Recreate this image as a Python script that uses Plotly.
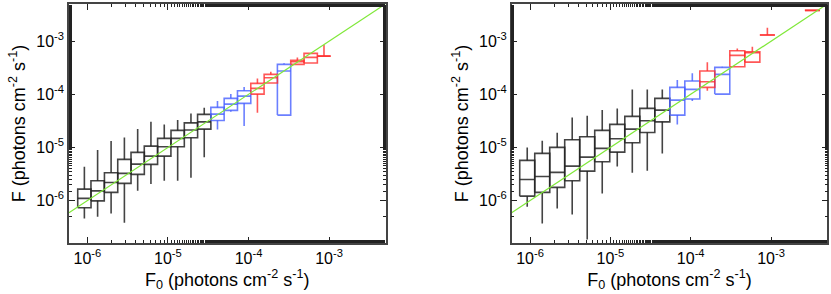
import math
import plotly.graph_objects as go

# ---------------- data ----------------
# Left panel: bin centres (F0) and box statistics of F
left_f0 = [9.18e-7, 1.34e-6, 1.97e-6, 2.88e-6, 4.21e-6, 6.15e-6, 9.0e-6, 1.32e-5,
           1.93e-5, 2.82e-5, 4.12e-5, 6.03e-5, 8.82e-5, 1.29e-4, 1.89e-4, 2.76e-4,
           4.04e-4, 5.91e-4, 8.64e-4]
left_lower = [4.6e-7, 4.93e-7, 5.71e-7, 3.8e-7, 1.52e-6, 2.04e-6, 2.35e-6, 2.35e-6,
              2.68e-6, 6.49e-6, 2.18e-5, 4.68e-5, 2.52e-5, 4.49e-5, 1.63e-4, 4.06e-5,
              3.66e-4, 3.87e-4, 5.24e-4]
left_q1 = [7.3e-7, 9.86e-7, 1.42e-6, 2.1e-6, 3.1e-6, 4.79e-6, 6.85e-6, 1.026e-5,
           1.517e-5, 2.21e-5, 3.22e-5, 4.98e-5, 6.75e-5, 1.009e-4, 1.63e-4, 4.06e-5,
           3.66e-4, 3.87e-4, 5.24e-4]
left_median = [1.096e-6, 1.52e-6, 2.19e-6, 3.24e-6, 4.84e-6, 6.85e-6, 1.026e-5, 1.476e-5,
               2.12e-5, 3.03e-5, 4.24e-5, 6.53e-5, 9.25e-5, 1.291e-4, 2.05e-4, 2.74e-4,
               4.09e-4, 4.95e-4, 5.24e-4]
left_q3 = [1.64e-6, 2.35e-6, 3.33e-6, 5.94e-6, 8.05e-6, 1.057e-5, 1.476e-5, 2.09e-5,
           2.9e-5, 4.19e-5, 5.66e-5, 8.38e-5, 1.164e-4, 1.603e-4, 2.37e-4, 3.66e-4,
           4.35e-4, 5.89e-4, 5.24e-4]
left_upper = [4.32e-6, 8.89e-6, 1.315e-5, 1.54e-5, 2.21e-5, 3.03e-5, 2.71e-5, 3.27e-5,
              4.37e-5, 5.57e-5, 7.45e-5, 1.009e-4, 1.368e-4, 1.99e-4, 2.65e-4, 3.82e-4,
              4.95e-4, 5.89e-4, 8.45e-4]
left_group = ["k"] * 10 + ["b", "b", "b", "r", "r", "b", "r", "r", "r"]

# Right panel
right_f0 = [9.23e-7, 1.42e-6, 2.18e-6, 3.35e-6, 5.15e-6, 7.92e-6, 1.218e-5, 1.875e-5,
            2.88e-5, 4.43e-5, 6.81e-5, 1.047e-4, 1.61e-4, 2.47e-4, 3.8e-4, 5.85e-4,
            9.0e-4, 3.27e-3]
right_lower = [7.6e-7, 3.71e-7, 7.1e-7, 5.47e-7, 1.85e-7, 1.36e-6, 4.39e-6, 3.33e-6,
               3.62e-6, 7.71e-6, 2.71e-5, 7.45e-5, 1.164e-4, 1.009e-4, 3.3e-4, 4.04e-4,
               1.303e-3, 3.8e-3]
right_q1 = [1.208e-6, 1.42e-6, 1.766e-6, 2.35e-6, 3.58e-6, 5.36e-6, 8.15e-6, 1.222e-5,
            1.914e-5, 3.03e-5, 4.06e-5, 8.13e-5, 1.349e-4, 1.009e-4, 3.3e-4, 4.04e-4,
            1.303e-3, 3.8e-3]
right_median = [2.49e-6, 2.84e-6, 3.38e-6, 4.45e-6, 6.56e-6, 9.57e-6, 1.452e-5, 2.21e-5,
                3.17e-5, 5.04e-5, 7.78e-5, 1.236e-4, 1.718e-4, 2.37e-4, 5.41e-4, 6.05e-4,
                1.303e-3, 3.8e-3]
right_q3 = [5.69e-6, 7.71e-6, 1.0e-5, 1.39e-5, 1.585e-5, 2.09e-5, 2.71e-5, 3.84e-5,
            5.42e-5, 8.38e-5, 1.349e-4, 1.774e-4, 2.74e-4, 3.21e-4, 6.59e-4, 6.31e-4,
            1.303e-3, 3.8e-3]
right_upper = [1.0e-5, 1.33e-5, 1.884e-5, 3.67e-5, 3.94e-5, 5.04e-5, 5.42e-5, 1.236e-4,
               1.236e-4, 1.236e-4, 1.85e-4, 2.48e-4, 3.99e-4, 3.3e-4, 7.31e-4, 7.83e-4,
               1.786e-3, 3.8e-3]
right_group = ["k"] * 10 + ["b", "b", "r", "b", "r", "r", "r", "r"]

# one-to-one reference line F = F0
ref_f0 = [5.9e-7, 5.0e-3]

tick_text = ["10<sup>-6</sup>", "10<sup>-5</sup>", "10<sup>-4</sup>", "10<sup>-3</sup>"]
tick_vals = [1e-6, 1e-5, 1e-4, 1e-3]

# ---------------- styling ----------------
COLORS = {"k": "rgba(35,35,35,0.85)", "b": "rgba(70,95,255,0.8)", "r": "rgba(255,45,45,0.8)"}
LEFT_HALF = 0.0826   # half box width, decades
RIGHT_HALF = 0.0934
FONT = "Liberation Sans, Arial, Helvetica, sans-serif"


def box_traces(f0, lo, q1, med, q3, hi, grp, half, xa, ya):
    traces = []
    for g in ["k", "b", "r"]:
        xs, ys = [], []
        for i in range(len(f0)):
            if grp[i] != g:
                continue
            c = math.log10(f0[i])
            a, b = 10 ** (c - half), 10 ** (c + half)
            xs += [a, b, b, a, a, None]
            ys += [q1[i], q1[i], q3[i], q3[i], q1[i], None]
            xs += [a, b, None]
            ys += [med[i], med[i], None]
            if hi[i] > q3[i]:
                xs += [f0[i], f0[i], None]
                ys += [q3[i], hi[i], None]
            if lo[i] < q1[i]:
                xs += [f0[i], f0[i], None]
                ys += [q1[i], lo[i], None]
        traces.append(go.Scatter(x=xs, y=ys, mode="lines", xaxis=xa, yaxis=ya,
                                 line=dict(color=COLORS[g], width=1.6),
                                 showlegend=False, hoverinfo="skip"))
    return traces


fig = go.Figure()
for t in box_traces(left_f0, left_lower, left_q1, left_median, left_q3, left_upper,
                    left_group, LEFT_HALF, "x", "y"):
    fig.add_trace(t)
for t in box_traces(right_f0, right_lower, right_q1, right_median, right_q3, right_upper,
                    right_group, RIGHT_HALF, "x2", "y2"):
    fig.add_trace(t)

for xa, ya in [("x", "y"), ("x2", "y2")]:
    fig.add_trace(go.Scatter(x=ref_f0, y=ref_f0, mode="lines", xaxis=xa, yaxis=ya,
                             line=dict(color="#7fe838", width=1.2),
                             showlegend=False, hoverinfo="skip"))

W, H = 831, 294
xdom1 = [69 / W, 385.5 / W]
xdom2 = [511.7 / W, 827.3 / W]
ydom = [(H - 243) / H, (H - 4) / H]

common_axis = dict(
    type="log", showgrid=False, zeroline=False, showline=True, linecolor="#444",
    linewidth=1.5, mirror="allticks", ticks="inside", ticklen=6, tickwidth=1,
    tickcolor="#222", automargin=False,
    minor=dict(ticks="inside", ticklen=3, tickwidth=1, tickcolor="#222", showgrid=False),
    tickfont=dict(family=FONT, size=16, color="black"),
    tickvals=tick_vals, ticktext=tick_text,
)
xtitle = "F<sub>0</sub> (photons cm<sup>-2</sup> s<sup>-1</sup>)"
ytitle = "F (photons cm<sup>-2</sup> s<sup>-1</sup>)"
xr = [-6.228, -2.30]
yr = [-6.80, -2.30]

fig.update_layout(
    width=W, height=H, margin=dict(l=0, r=0, t=0, b=0),
    paper_bgcolor="white", plot_bgcolor="white",
    font=dict(family=FONT, size=16, color="black"),
    xaxis=dict(common_axis, domain=xdom1, range=xr, anchor="y",
               title=dict(text=xtitle, font=dict(size=18), standoff=2)),
    yaxis=dict(common_axis, domain=ydom, range=yr, anchor="x",
               title=dict(text=ytitle, font=dict(size=18), standoff=6)),
    xaxis2=dict(common_axis, domain=xdom2, range=xr, anchor="y2",
                title=dict(text=xtitle, font=dict(size=18), standoff=2)),
    yaxis2=dict(common_axis, domain=ydom, range=yr, anchor="x2",
                title=dict(text=ytitle, font=dict(size=18), standoff=6)),
)

fig.write_html("out.html", config={"displayModeBar": False},
               post_script="document.body.style.margin='0';")
